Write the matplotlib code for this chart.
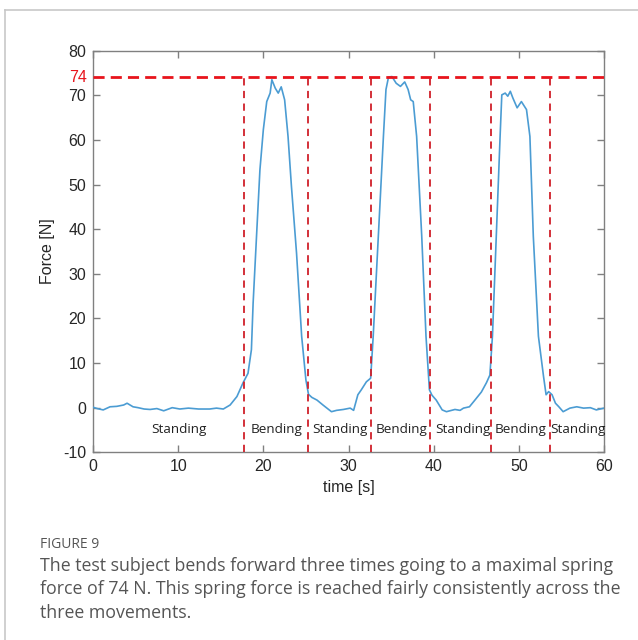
import matplotlib
matplotlib.use("Agg")
import matplotlib.pyplot as plt
from matplotlib.lines import Line2D

plt.rcParams["axes.unicode_minus"] = False

# ---- data ----
time_s = [0, 0.5, 1.2, 2.0, 2.8, 3.6, 4.0, 4.7, 5.3, 6.0, 6.7, 7.5, 8.3, 9.3, 10.2,
          11.2, 12.4, 13.7, 14.5, 15.3, 16.1, 16.9, 17.6, 18.2, 18.6, 18.8, 19.2,
          19.6, 20.0, 20.4, 20.8, 21.0, 21.4, 21.75, 22.1, 22.5, 22.9, 23.3, 23.9,
          24.5, 25.0, 25.3, 25.7, 26.3, 27.0, 28.0, 28.6, 29.4, 30.2, 30.6, 31.1,
          31.5, 32.1, 32.6, 32.9, 33.3, 33.7, 34.1, 34.4, 34.7, 35.1, 35.6, 36.1,
          36.6, 37.0, 37.3, 37.6, 38.0, 38.6, 39.1, 39.5, 39.8, 40.3, 41.0, 41.5,
          42.5, 43.1, 43.5, 44.2, 44.8, 45.6, 46.2, 46.6, 46.9, 47.2, 47.5, 47.8,
          48.0, 48.4, 48.7, 49.0, 49.3, 49.8, 50.3, 50.9, 51.3, 51.7, 52.3, 52.9,
          53.2, 53.5, 53.9, 54.3, 54.7, 55.2, 56.0, 56.8, 57.6, 58.4, 59.1, 60.0]
force_n = [0.1, -0.2, -0.5, 0.2, 0.3, 0.6, 1.0, 0.2, 0.0, -0.3, -0.4, -0.2, -0.7, 0.0,
           -0.3, -0.1, -0.3, -0.3, -0.1, -0.3, 0.6, 2.5, 5.5, 7.7, 13, 23.4, 38.4,
           53.3, 62.3, 68.6, 70.5, 73.5, 71.6, 70.5, 71.9, 69.0, 60.8, 49.6, 34.6,
           16, 6.2, 3.0, 2.3, 1.7, 0.6, -0.9, -0.6, -0.4, -0.1, -0.6, 2.9,
           4.0, 5.8, 6.6, 16, 30.9, 45.8, 60.8, 71.3, 74.1, 74.2, 72.7, 72.0,
           73.0, 71.3, 69.0, 68.6, 60.8, 38.4, 16, 4.0, 2.8, 1.7, -0.5, -0.9,
           -0.4, -0.6, -0.1, 0.2, 1.6, 3.5, 5.6, 7.3, 16, 30.9, 45.8, 60.8,
           70.1, 70.5, 69.8, 70.9, 69.4, 67.2, 68.6, 66.8, 60.8, 38.4, 16, 7.0,
           2.9, 3.6, 2.9, 1.0, 0.2, -0.9, -0.1, 0.2, -0.1, 0.0, -0.5, -0.1]

max_force = 74
phase_bounds = [17.7, 25.2, 32.7, 39.6, 46.7, 53.7]
phase_labels = ["Standing", "Bending", "Standing", "Bending", "Standing", "Bending", "Standing"]
phase_label_x = [10.1, 21.6, 29.0, 36.2, 43.4, 50.2, 56.9]
x_ticks = [0, 10, 20, 30, 40, 50, 60]
y_ticks = [-10, 0, 10, 20, 30, 40, 50, 60, 70, 80]

W, H = 638, 640
fig = plt.figure(figsize=(W / 100, H / 100), dpi=100)
fig.patch.set_facecolor("white")

# card border
fig.add_artist(Line2D([5 / W, 1.0], [1 - 10 / H, 1 - 10 / H], color="#c8c8c8", lw=1.2,
                      transform=fig.transFigure))
fig.add_artist(Line2D([5 / W, 5 / W], [0, 1 - 10 / H], color="#c8c8c8", lw=1.2,
                      transform=fig.transFigure))

ax = fig.add_axes([93 / W, 1 - 452.3 / H, (604 - 93) / W, (452.3 - 50.7) / H])
axis_col = "#808080"
for sp in ax.spines.values():
    sp.set_color(axis_col)
    sp.set_linewidth(1.0)

ax.plot(time_s, force_n, color="#4b9cd3", lw=1.2, zorder=3)

# horizontal max line
ax.plot([0, 60], [max_force, max_force], color="#e8141c", lw=2.0,
        dashes=(4, 2.2), zorder=4)
# vertical phase lines
for xb in phase_bounds:
    ax.plot([xb, xb], [-10, max_force], color="#d0202a", lw=1.3,
            dashes=(4, 3), zorder=4)

for lab, xl in zip(phase_labels, phase_label_x):
    ax.text(xl, -5, lab, ha="center", va="center", fontsize=9.7,
            family="Open Sans", color="#222222")

ax.set_xlim(0, 60)
ax.set_ylim(-10, 80)
ax.set_xticks(x_ticks)
ax.set_yticks(y_ticks)
ax.tick_params(direction="in", top=True, right=True, length=5, width=1.0,
               color=axis_col, labelsize=11.5, labelcolor="#262626", pad=5)
for lbl in ax.get_xticklabels() + ax.get_yticklabels():
    lbl.set_family("Liberation Sans")

ax.text(-0.012, max_force, "74", transform=ax.get_yaxis_transform(),
        ha="right", va="center", fontsize=11.5, family="Liberation Sans",
        color="#e8141c")

ax.set_xlabel("time [s]", fontsize=11.5, family="Liberation Sans", color="#262626",
              labelpad=4)
ax.set_ylabel("Force [N]", fontsize=11.5, family="Liberation Sans", color="#262626",
              labelpad=6)

# caption
fig.text(40 / W, 1 - 545 / H, "FIGURE 9", fontsize=10, family="Open Sans",
         color="#555555", ha="left", va="center")
cap_lines = ["The test subject bends forward three times going to a maximal spring",
             "force of 74 N. This spring force is reached fairly consistently across the",
             "three movements."]
for i, line in enumerate(cap_lines):
    fig.text(40 / W, 1 - (566 + i * 23.5) / H, line, fontsize=12.8, family="Open Sans",
             color="#555555", ha="left", va="center")

fig.savefig("out.png", dpi=100, facecolor="white")
